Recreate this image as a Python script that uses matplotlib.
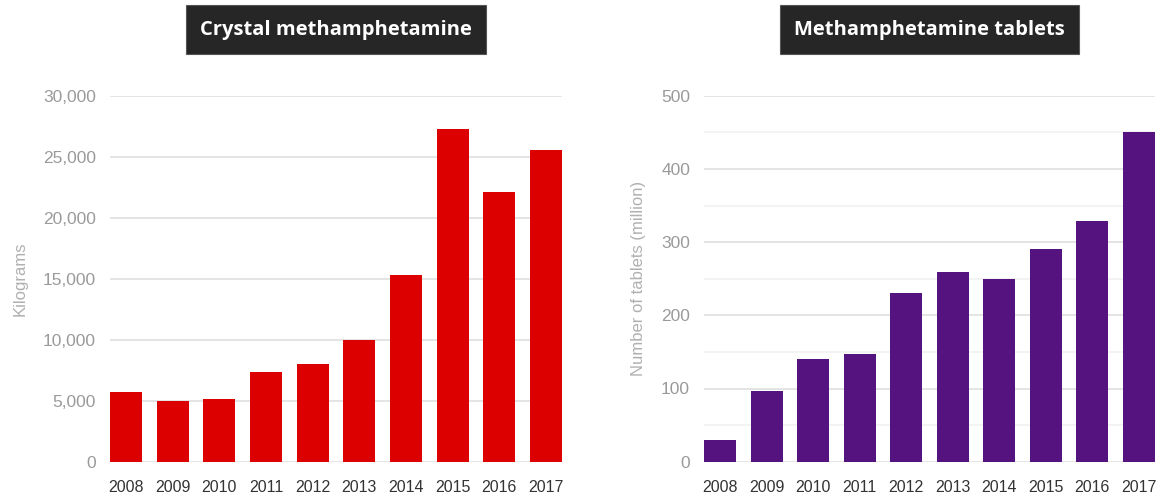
import matplotlib
matplotlib.use("Agg")
import matplotlib.pyplot as plt
from matplotlib.ticker import FuncFormatter, MultipleLocator

years = ["2008", "2009", "2010", "2011", "2012", "2013", "2014", "2015", "2016", "2017"]
crystal_kg = [5680, 4940, 5160, 7350, 7980, 10000, 15290, 27270, 22130, 25570]
tablets_million = [30, 97, 140, 147, 231, 259, 249, 291, 329, 450]

crystal_title = "Crystal methamphetamine"
tablets_title = "Methamphetamine tablets"
crystal_ylabel = "Kilograms"
tablets_ylabel = "Number of tablets (million)"

RED = "#dd0000"
PURPLE = "#55137f"
GRID = "#e2e2e2"
GRID_MINOR = "#f2f2f2"
TICK_GRAY = "#9a9a9a"
LABEL_GRAY = "#b0b0b0"
YEAR_DARK = "#333333"

plt.rcParams["font.family"] = ["Liberation Sans", "DejaVu Sans"]

fig = plt.figure(figsize=(11.57, 4.93), dpi=100)

bottom = 1 - 461.7 / 493
top = 1 - 95.7 / 493
ax1 = fig.add_axes([110 / 1157, bottom, (562 - 110) / 1157, top - bottom])
ax2 = fig.add_axes([704 / 1157, bottom, (1155 - 704) / 1157, top - bottom])

x = range(len(years))


def style(ax, ymax, major, minor, color, values, ylabel, title, label_x):
    ax.bar(x, values, width=0.69, color=color, edgecolor="none", zorder=3)
    ax.set_xlim(-0.345, len(years) - 1 + 0.345)
    ax.set_ylim(0, ymax)
    ax.yaxis.set_major_locator(MultipleLocator(major))
    if minor:
        ax.yaxis.set_minor_locator(MultipleLocator(minor))
        ax.grid(True, axis="y", which="minor", color=GRID_MINOR, linewidth=1.3, zorder=0)
    ax.grid(True, axis="y", which="major", color=GRID, linewidth=1.3, zorder=0)
    ax.set_xticks(list(x))
    ax.set_xticklabels(years)
    for s in ax.spines.values():
        s.set_visible(False)
    ax.tick_params(axis="x", length=0, pad=13, labelsize=11.5, labelcolor=YEAR_DARK)
    ax.tick_params(axis="y", which="both", length=0, pad=10, labelsize=12.5, labelcolor=TICK_GRAY)
    ax.set_ylabel(ylabel, fontsize=12, color=LABEL_GRAY)
    ax.yaxis.set_label_coords(label_x, 0.5)
    ax.set_title(title, fontsize=14.5, fontweight="bold", color="white", family="Open Sans",
                 pad=44,
                 bbox=dict(boxstyle="square,pad=0.7", facecolor="#262626", edgecolor="#555555",
                           linewidth=0.8))


style(ax1, 30000, 5000, None, RED, crystal_kg, crystal_ylabel, crystal_title, -0.183)
ax1.yaxis.set_major_formatter(FuncFormatter(lambda v, p: f"{int(v):,}"))
style(ax2, 500, 100, 50, PURPLE, tablets_million, tablets_ylabel, tablets_title, -0.129)

fig.savefig("out.png", dpi=100, facecolor="white")
